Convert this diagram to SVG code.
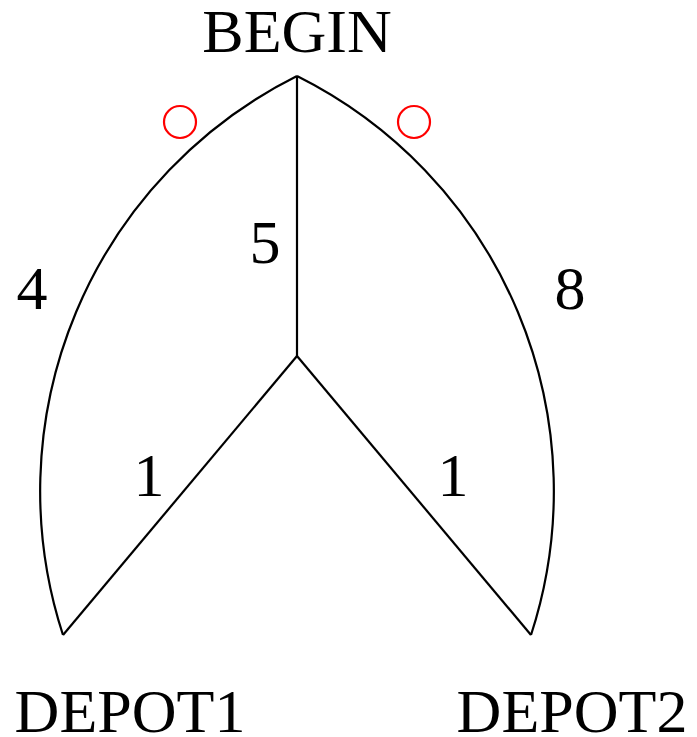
<svg xmlns="http://www.w3.org/2000/svg" width="697" height="737" viewBox="0 0 697 737">
<style>
text{font-family:"Liberation Serif","Times New Roman",serif;font-size:62px;fill:#000;text-anchor:middle}
.e{fill:none;stroke:#000;stroke-width:2.2}
.m{fill:none;stroke:#ff0000;stroke-width:2.2}
</style>
<rect width="697" height="737" fill="#fff"/>
<g id="connectors">
<path class="e" d="M297,76 A464,464 0 0,0 63,635"/>
<path class="e" d="M297,76 A464,464 0 0,1 531,635"/>
<path class="e" d="M297,76 L297,356"/>
<path class="e" d="M297,356 L63,635"/>
<path class="e" d="M297,356 L531,635"/>
<text x="32" y="309">4</text>
<text x="265" y="263">5</text>
<text x="570" y="309">8</text>
<text x="149" y="496">1</text>
<text x="453" y="496">1</text>
<circle class="m" cx="180" cy="122" r="16"/>
<circle class="m" cx="414" cy="122" r="16"/>
</g>
<g id="BEGIN"><text x="297" y="52">BEGIN</text></g>
<g id="DEPOT1"><text x="130" y="732">DEPOT1</text></g>
<g id="DEPOT2"><text x="572" y="732">DEPOT2</text></g>
</svg>
